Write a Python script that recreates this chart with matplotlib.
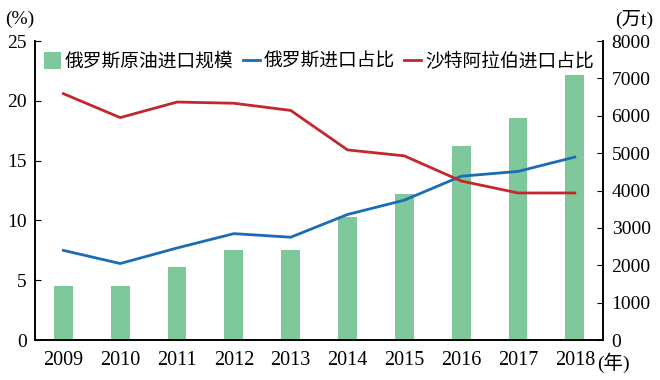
import matplotlib
matplotlib.use('Agg')
import matplotlib.pyplot as plt
import numpy as np

plt.rcParams['font.family'] = ['Liberation Serif', 'Noto Sans CJK SC']

years = ['2009', '2010', '2011', '2012', '2013', '2014', '2015', '2016', '2017', '2018']
russia_volume = [1460, 1460, 1950, 2400, 2400, 3300, 3900, 5200, 5950, 7100]
russia_share = [7.5, 6.4, 7.7, 8.9, 8.6, 10.5, 11.7, 13.7, 14.1, 15.3]
saudi_share = [20.6, 18.6, 19.9, 19.8, 19.2, 15.9, 15.4, 13.3, 12.3, 12.3]

green = '#7fc89b'
blue = '#1a6db5'
red = '#c1272d'

fig = plt.figure(figsize=(6.6, 3.8), dpi=100)
ax = fig.add_axes([0.053, 0.105, 0.861, 0.787])
ax2 = ax.twinx()

x = np.arange(len(years))
bars = ax2.bar(x, russia_volume, width=0.33, color=green, label='俄罗斯原油进口规模')
l1, = ax.plot(x, russia_share, color=blue, lw=2.0, label='俄罗斯进口占比')
l2, = ax.plot(x, saudi_share, color=red, lw=2.0, label='沙特阿拉伯进口占比')
ax.set_zorder(ax2.get_zorder() + 1)
ax.patch.set_visible(False)

ax.set_xlim(-0.5, 9.5)
ax.set_ylim(0, 25)
ax2.set_ylim(0, 8000)
ax.set_yticks([0, 5, 10, 15, 20, 25])
ax2.set_yticks(range(0, 8001, 1000))
ax.set_xticks(x)
ax.set_xticklabels(years)

for a in (ax, ax2):
    a.spines['top'].set_visible(False)
    for s in a.spines.values():
        s.set_linewidth(1.2)
ax.tick_params(axis='y', direction='in', length=4, labelsize=14, pad=6)
ax2.tick_params(axis='y', direction='in', length=4, labelsize=14, pad=6)
ax.tick_params(axis='x', length=0, labelsize=14.5, pad=8)

fig.text(0.008, 0.95, '(%)', fontsize=14, va='center', ha='left')
fig.text(0.99, 0.95, '(万t)', fontsize=14, va='center', ha='right')
fig.text(0.905, 0.045, '(年)', fontsize=14, va='center', ha='left')

ax.legend([bars, l1, l2], [bars.get_label(), l1.get_label(), l2.get_label()],
          loc='upper center', bbox_to_anchor=(0.5, 1.0), ncol=3, frameon=False,
          fontsize=13.5, handlelength=0.9, handleheight=1.0, handletextpad=0.2,
          columnspacing=0.5, borderaxespad=0.2)

fig.savefig('out.png', dpi=100)
